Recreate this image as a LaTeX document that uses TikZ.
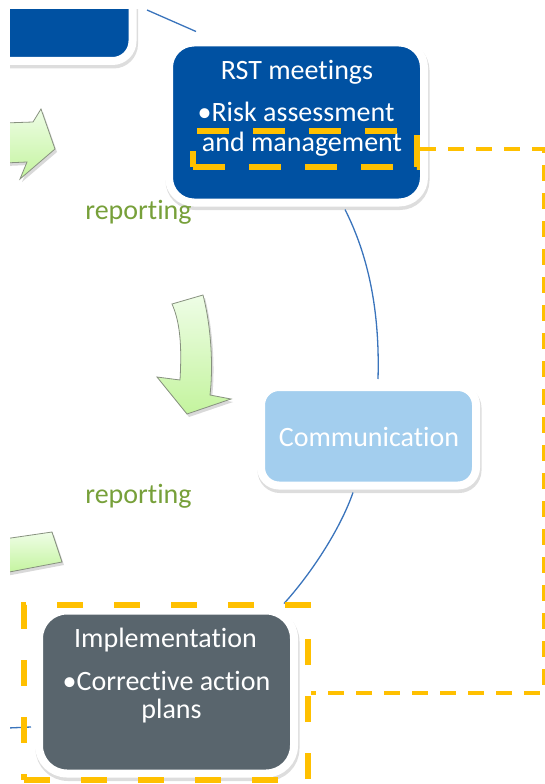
\documentclass[tikz,border=0pt]{standalone}
\usepackage{fontspec}
\setmainfont{Carlito}[Ligatures={NoCommon}]
\usetikzlibrary{shadows,calc}
\definecolor{rstblue}{HTML}{0051A2}
\definecolor{commblue}{HTML}{A3CEEE}
\definecolor{implgray}{HTML}{59656D}
\definecolor{hiyellow}{HTML}{FFC000}
\definecolor{conblue}{HTML}{3A74BC}
\definecolor{repgreen}{HTML}{77A03A}
\definecolor{arrowedge}{HTML}{87917F}
\definecolor{arrowtop}{HTML}{EEFDE6}
\definecolor{arrowbot}{HTML}{C4F49E}
\tikzset{
  box/.style={draw=white, line width=8pt,
    drop shadow={opacity=0.22, shadow xshift=1pt, shadow yshift=-3pt,
      fill=black!60, draw=black!60, line width=9pt}},
  boxtext/.style={inner sep=0pt, anchor=base, text=white,
    font=\fontsize{28pt}{32pt}\selectfont},
  reptext/.style={inner sep=0pt, anchor=base, text=repgreen,
    font=\fontsize{28pt}{32pt}\selectfont},
  conn/.style={draw=conblue, line width=1.3pt},
  hlbox/.style={draw=hiyellow, rectangle, inner sep=0pt},
  linkdash/.style={draw=hiyellow, line width=4pt, dash pattern=on 16pt off 12pt},
  greenarrow/.style={draw=arrowedge, line width=0.8pt, top color=arrowtop, bottom color=arrowbot,
    drop shadow={opacity=0.3, shadow xshift=2pt, shadow yshift=-3pt}},
}
\begin{document}
\begin{tikzpicture}[x=1pt,y=-1pt]
\useasboundingbox (0,0) rectangle (545,784);
\begin{scope}
\clip (10,10) rectangle (545,784);

\coordinate (topin) at (147,10);
\coordinate (leftin) at (8,728);
\coordinate (rc) at (544,0);

% boxes
\node[box, rectangle, rounded corners=20pt, fill=rstblue,
   minimum width=232.5pt, minimum height=161pt] (tl) at (16.25,-19.5) {};
\node[box, rectangle, rounded corners=25pt, fill=rstblue,
   minimum width=255pt, minimum height=160pt] (rst) at (296.5,122.5) {};
\node[box, rectangle, rounded corners=18pt, fill=commblue,
   minimum width=215pt, minimum height=98.5pt] (comm) at (368.5,436.25) {};
\node[box, rectangle, rounded corners=28pt, fill=implgray,
   minimum width=255pt, minimum height=163pt] (impl) at (166.5,692) {};

% connectors
\draw[conn] (topin) -- ($(rst.north west)+(31,-7)$);
\draw[conn] ($(rst.south)+(48.5,3)$) .. controls (368,255) and (380,310) .. ($(comm.north)+(9.5,-4)$);
\draw[conn] ($(comm.south)+(-15.5,3)$) .. controls (340,530) and (310,575) .. ($(impl.north east)+(-14,-3)$);
\draw[conn] (leftin) -- ($(impl.west)+(-4,35)$);

% texts
\node[boxtext] (rst1) at (297,80) {RST meetings};
\node[boxtext] (rst2) at (296,121) {•Risk assessment};
\node[boxtext] (rst3) at (302,151) {and management};
\node[boxtext] (comm1) at (369,446) {Communication};
\node[boxtext] (impl1) at (165.5,647) {Implementation};
\node[boxtext] (impl2) at (166.5,690) {•Corrective action};
\node[boxtext] (impl3) at (171.5,718) {plans};
\node[reptext] (rep1) at (138.5,219) {reporting};
\node[reptext] (rep2) at (138.5,503) {reporting};

% green arrows
\path[greenarrow] (4,123) -- (33,122) -- (41,109) -- (55,149) -- (20,179) -- (27,162) -- (4,163) -- cycle;
\path[greenarrow] (172,304) -- (203,295) .. controls (212,330) and (213,370) .. (210,395)
   -- (231,399) -- (187,414) -- (157,377) -- (180,380) .. controls (182,345) and (180,322) .. (172,304) -- cycle;
\path[greenarrow] (4,539) -- (52,532) -- (62,562) -- (4,573) -- cycle;

% highlights
\node[hlbox, line width=6pt, dash pattern=on 32pt off 24pt,
   minimum width=224pt, minimum height=36pt] (rsthl) at (305,149) {};
\node[hlbox, line width=6.5pt, dash pattern=on 26pt off 31pt,
   minimum width=284pt, minimum height=175pt] (implhl) at (166,692.5) {};
\draw[linkdash] (rsthl.east) -- (rsthl.east -| rc) -- (implhl.east -| rc) -- (implhl.east);
\end{scope}
\end{tikzpicture}
\end{document}
